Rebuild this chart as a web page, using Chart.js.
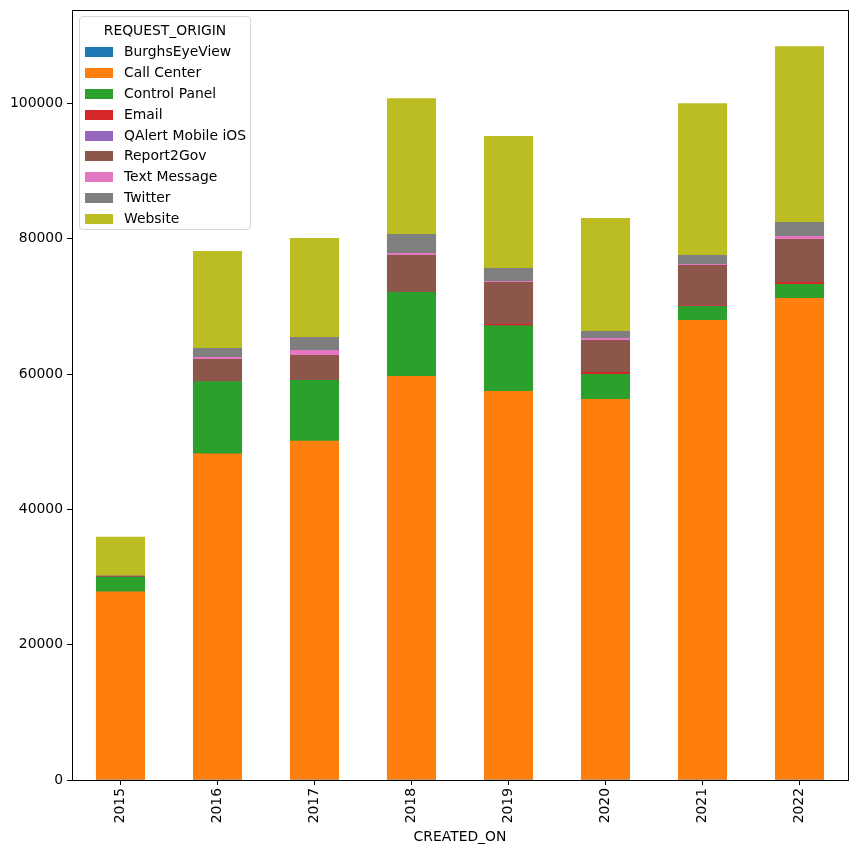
<!DOCTYPE html>
<html>
<head>
<meta charset="utf-8">
<script src="https://cdn.jsdelivr.net/npm/chart.js@4"></script>
<style>
  html, body { margin: 0; padding: 0; background: #fff; }
  #wrap { position: relative; width: 857px; height: 854px; }
  #legend {
    position: absolute; left: 79px; top: 16px; width: 170px; height: 212px;
    border: 1px solid #d6d6d6; border-radius: 4px; background: rgba(255,255,255,0.8);
    font-family: "DejaVu Sans", sans-serif; font-size: 13.9px; color: #000;
    box-sizing: content-box;
  }
  #legend .title { text-align: center; margin-top: 3px; height: 21px; line-height: 21px; }
  #legend .item { position: relative; height: 20.9px; line-height: 20.9px; }
  #legend .sw { position: absolute; left: 5px; top: 6px; width: 28px; height: 10px; }
  #legend .lab { position: absolute; left: 44px; top: 0; white-space: nowrap; }
</style>
</head>
<body>
<div id="wrap">
  <canvas id="c" width="857" height="854"></canvas>
  <div id="legend"></div>
</div>
<script>
const years = ["2015", "2016", "2017", "2018", "2019", "2020", "2021", "2022"];
const seriesNames = ["BurghsEyeView", "Call Center", "Control Panel", "Email", "QAlert Mobile iOS", "Report2Gov", "Text Message", "Twitter", "Website"];
const burghsEyeView = [0, 0, 0, 0, 0, 0, 0, 0];
const callCenter   = [27810, 48200, 50110, 59670, 57460, 56270, 67940, 71190];
const controlPanel = [2170, 10690, 8970, 12410, 9700, 3700, 2060, 2070];
const email        = [0, 0, 0, 0, 240, 290, 110, 290];
const qalertIos    = [0, 0, 0, 0, 0, 0, 0, 0];
const report2Gov   = [150, 3290, 3690, 5460, 6150, 4730, 5960, 6350];
const textMessage  = [0, 300, 740, 300, 150, 290, 140, 450];
const twitter      = [0, 1330, 1920, 2800, 1920, 1040, 1330, 2070];
const website      = [5760, 14320, 14620, 20090, 19500, 16690, 22450, 25990];
const yTicks = [0, 20000, 40000, 60000, 80000, 100000];

const seriesValues = [burghsEyeView, callCenter, controlPanel, email, qalertIos, report2Gov, textMessage, twitter, website];
const colors = ["#1f77b4", "#ff7f0e", "#2ca02c", "#d62728", "#9467bd", "#8c564b", "#e377c2", "#7f7f7f", "#bcbd22"];

const FONT = "DejaVu Sans";
const datasets = seriesNames.map((n, i) => ({
  label: n,
  data: seriesValues[i],
  backgroundColor: colors[i],
  borderWidth: 0,
  inflateAmount: 0.3,
  categoryPercentage: 1.0,
  barPercentage: 0.5
}));

const frame = {
  id: 'frame',
  afterDraw(chart) {
    const a = chart.chartArea, ctx = chart.ctx;
    ctx.save();
    ctx.strokeStyle = '#000';
    ctx.lineWidth = 1;
    ctx.strokeRect(Math.round(a.left) + 0.5, Math.round(a.top) + 0.5, Math.round(a.right - a.left), Math.round(a.bottom - a.top));
    ctx.restore();
  }
};

new Chart(document.getElementById('c'), {
  type: 'bar',
  data: { labels: years, datasets },
  options: {
    responsive: false,
    animation: false,
    devicePixelRatio: 1,
    layout: { padding: { top: 10, right: 9, left: 0, bottom: 0 } },
    plugins: { legend: { display: false }, tooltip: { enabled: false }, title: { display: false } },
    scales: {
      x: {
        stacked: true,
        offset: true,
        grid: { display: true, offset: false, drawOnChartArea: false, tickLength: 5, color: '#000', tickColor: '#000' },
        border: { display: true, color: '#000' },
        ticks: { color: '#000', font: { family: FONT, size: 13.9 }, minRotation: 90, maxRotation: 90, padding: 3, autoSkip: false },
        title: { display: true, text: 'CREATED_ON', color: '#000', font: { family: FONT, size: 13.9 }, padding: { top: 2, bottom: 8 } },
        afterFit(scale) { scale.height = 74; scale.paddingLeft = 0; scale.paddingRight = 0; }
      },
      y: {
        stacked: true,
        min: 0,
        max: 113800,
        grid: { display: true, drawOnChartArea: false, tickLength: 5, color: '#000', tickColor: '#000' },
        border: { display: true, color: '#000' },
        ticks: { color: '#000', font: { family: FONT, size: 13.9 }, padding: 4, callback: v => String(v) },
        afterBuildTicks(scale) { scale.ticks = yTicks.map(v => ({ value: v })); },
        afterFit(scale) { scale.width = 72; scale.paddingTop = 0; scale.paddingBottom = 0; }
      }
    }
  },
  plugins: [frame]
});

const lg = document.getElementById('legend');
const t = document.createElement('div');
t.className = 'title';
t.textContent = 'REQUEST_ORIGIN';
lg.appendChild(t);
seriesNames.forEach((n, i) => {
  const it = document.createElement('div');
  it.className = 'item';
  const sw = document.createElement('span');
  sw.className = 'sw';
  sw.style.background = colors[i];
  const lab = document.createElement('span');
  lab.className = 'lab';
  lab.textContent = n;
  it.appendChild(sw); it.appendChild(lab);
  lg.appendChild(it);
});
</script>
</body>
</html>
